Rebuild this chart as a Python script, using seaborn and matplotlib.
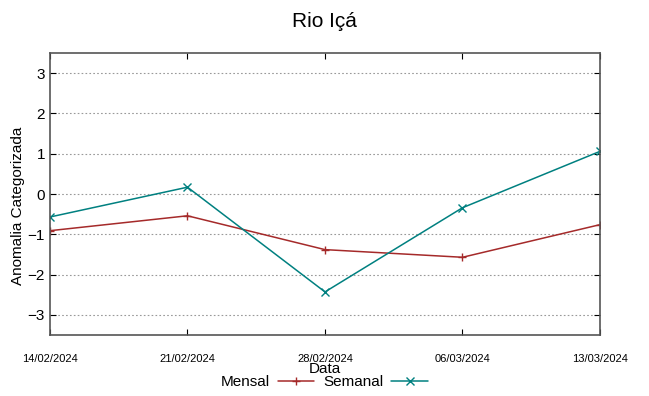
import pandas as pd
import numpy as np
import seaborn as sns
import matplotlib.pyplot as plt

# data
datas = ['14/02/2024', '21/02/2024', '28/02/2024', '06/03/2024', '13/03/2024']
mensal = [-0.91, -0.54, -1.38, -1.57, -0.76]
semanal = [-0.57, 0.17, -2.43, -0.34, 1.06]

df = pd.DataFrame({
    'pos': list(range(len(datas))) * 2,
    'valor': mensal + semanal,
    'serie': ['Mensal'] * len(datas) + ['Semanal'] * len(datas),
})

sns.set_style('white')
plt.rcParams['font.family'] = ['Liberation Sans', 'DejaVu Sans']
plt.rcParams['text.color'] = 'black'
plt.rcParams['axes.labelcolor'] = 'black'
plt.rcParams['xtick.color'] = 'black'
plt.rcParams['ytick.color'] = 'black'

fig = plt.figure(figsize=(6.49, 3.96), dpi=100)
ax = fig.add_axes([0.077, 0.154, 0.8475, 0.712])

sns.lineplot(data=df, x='pos', y='valor', hue='serie', style='serie',
             markers={'Mensal': '+', 'Semanal': 'x'}, dashes=False,
             palette={'Mensal': '#a52a2a', 'Semanal': '#008080'},
             linewidth=1.1, markersize=6, ax=ax)
# line markers (+, x) need an edge colour matching the line
for ln in ax.lines:
    ln.set_markeredgecolor(ln.get_color())
    ln.set_markeredgewidth(1.0)

ax.set_xlim(0, len(datas) - 1)
ax.set_ylim(-3.5, 3.5)
ax.set_xticks(range(len(datas)))
ax.set_xticklabels(datas, fontsize=8)
ax.set_yticks(range(-3, 4))
ax.tick_params(axis='y', labelsize=11, direction='in', right=True, left=True, length=4)
ax.tick_params(axis='x', direction='in', bottom=True, top=True, length=4, pad=14)
ax.yaxis.grid(True, linestyle=(0, (1.5, 2)), color='#999999', linewidth=0.8)
for s in ax.spines.values():
    s.set_color('#555555')
    s.set_linewidth(1.2)

ax.set_xlabel('Data', fontsize=11, labelpad=-2)
ax.set_ylabel('Anomalia Categorizada', fontsize=11)
ax.yaxis.set_label_coords(-0.045, 0.46)
fig.suptitle('Rio Içá', fontsize=15, y=0.97)

h, l = ax.get_legend_handles_labels()
for hh in h:
    hh.set_markeredgecolor(hh.get_color())
    hh.set_markeredgewidth(1.0)
leg = ax.legend(h, l, loc='center', bbox_to_anchor=(0.5, 0.035), bbox_transform=fig.transFigure,
                ncol=2, frameon=False, markerfirst=False, fontsize=11, handlelength=2.4,
                columnspacing=0.6, handletextpad=0.5, borderaxespad=0)

plt.savefig('out.png', dpi=100)
